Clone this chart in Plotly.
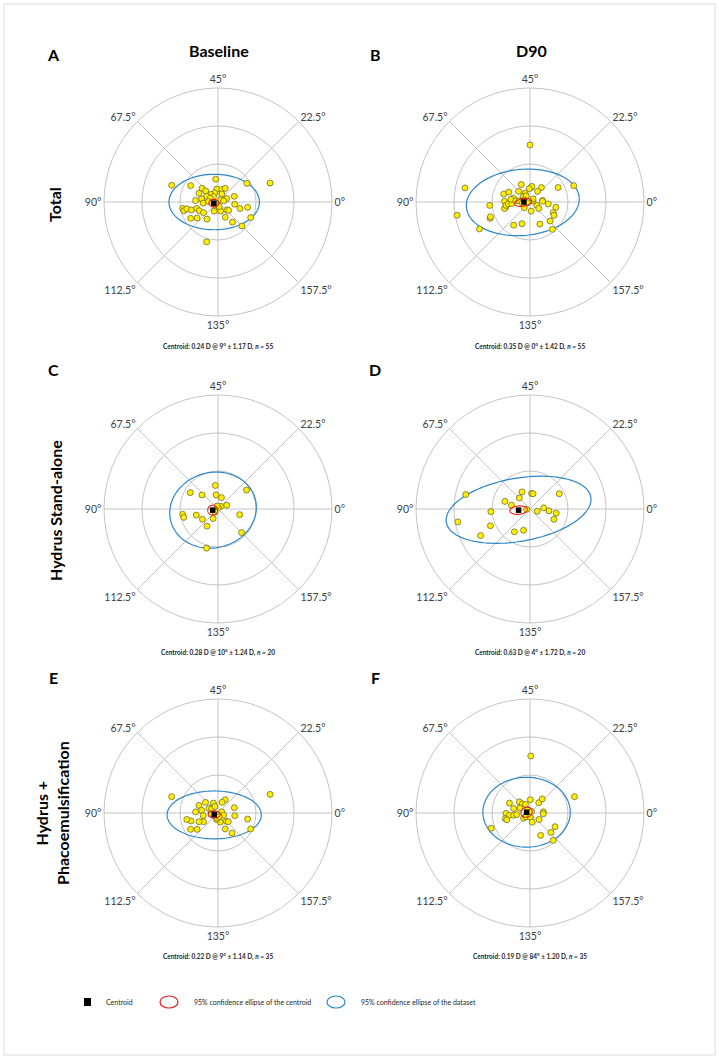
import numpy as np
import plotly.graph_objects as go

W, H = 719, 1059
FONT = "Lato"

# ---- data (double-angle plot coordinates, diopters) ----
A_x = [-1.22,-0.72,-0.06,0.76,1.37,-0.42,-0.32,-0.50,-0.03,0.10,0.19,-0.09,-0.19,-0.30,-0.43,-0.59,-0.39,0.07,0.23,0.43,
       0.15,0.44,0.58,0.78,0.86,0.63,0.38,0.19,0.07,0.23,0.28,-0.10,-0.29,-0.55,-0.72,-0.93,-0.90,-0.82,-0.70,-0.56,
       -0.49,-0.38,-0.30,-0.05,-0.01,-0.12,-0.21,0.10,0.03,-0.25]
A_y = [0.44,0.43,0.60,0.49,0.50,0.36,0.29,0.23,0.34,0.33,0.36,0.24,0.20,0.15,0.08,0.04,-0.03,0.06,0.09,0.15,
       0.03,-0.06,-0.17,-0.14,-0.41,-0.63,-0.53,-0.40,-0.24,-0.21,-0.22,-0.24,-0.45,-0.42,-0.43,-0.17,-0.23,-0.18,-0.21,-0.17,
       -0.23,-0.28,-1.05,-0.11,-0.08,0.14,0.10,0.21,-0.12,0.01]

B_x = [0.00,-1.71,-1.92,-1.33,-1.05,-1.04,-1.06,-0.69,-0.56,-0.23,-0.30,-0.13,0.03,0.05,-0.02,0.30,0.20,0.74,1.15,0.33,
       0.33,0.48,0.18,0.23,0.03,-0.15,0.61,0.63,0.68,0.53,0.26,-0.21,-0.43,0.59,-0.67,-0.64,-0.67,-0.63,-0.57,-0.48,
       -0.44,-0.50,-0.37,-0.29,-0.18,-0.10,-0.16,-0.06,0.08,0.08,-0.20]
B_y = [1.50,0.37,-0.35,-0.71,-0.43,-0.39,-0.09,0.21,0.26,0.46,0.28,0.23,0.38,0.41,0.35,0.38,0.28,0.38,0.43,0.04,
       0.02,-0.05,-0.09,-0.17,-0.24,-0.15,-0.28,-0.35,-0.14,-0.50,-0.58,-0.57,-0.61,-0.72,0.02,-0.14,-0.17,-0.09,-0.05,-0.04,
       0.10,0.07,0.03,0.03,0.14,0.16,0.05,-0.02,0.03,0.08,-0.03]

C_x = [-0.07,-0.73,-0.42,-0.05,0.09,0.75,0.23,0.07,0.01,-0.08,-0.13,-0.41,-0.57,-0.93,-0.90,-0.29,0.57,0.62,-0.30,-0.02]
C_y = [0.62,0.43,0.37,0.37,0.30,0.50,0.10,0.07,0.03,-0.08,-0.25,-0.27,-0.16,-0.14,-0.22,-0.45,-0.15,-0.62,-1.03,0.08]

D_x = [-1.69,-1.90,-1.30,-1.04,-1.03,-0.66,-0.49,-0.28,-0.21,0.04,0.08,0.77,-0.09,0.19,0.36,0.50,0.69,0.63,-0.17,-0.41]
D_y = [0.38,-0.34,-0.70,-0.44,-0.07,0.20,0.10,0.29,0.45,0.41,0.40,0.40,-0.01,-0.06,0.03,-0.05,-0.11,-0.27,-0.56,-0.60]

E_x = [-1.22,1.37,-0.50,-0.33,-0.12,0.19,0.11,0.43,-0.43,-0.59,-0.39,-0.24,-0.17,-0.08,0.10,0.15,0.44,0.78,0.86,0.37,
       0.19,0.22,0.27,0.06,-0.04,-0.02,-0.38,-0.50,-0.71,-0.82,-0.55,-0.72,-0.18,0.03]
E_y = [0.43,0.49,0.20,0.28,0.26,0.35,0.28,0.14,0.07,0.03,-0.07,0.12,0.10,0.17,0.03,-0.06,-0.07,-0.16,-0.42,-0.53,
       -0.42,-0.22,-0.23,-0.24,-0.17,-0.14,-0.23,-0.23,-0.21,-0.17,-0.43,-0.43,-0.01,-0.10]

F_x = [0.02,1.17,-1.02,-0.54,-0.28,-0.20,-0.12,0.01,0.23,0.32,-0.43,-0.26,-0.63,-0.54,-0.43,-0.35,-0.65,-0.61,-0.17,-0.11,
       0.01,0.06,0.24,0.35,0.35,0.66,0.55,0.28,0.61,-0.06,0.04]
F_y = [1.50,0.43,-0.40,0.26,0.29,0.24,0.23,0.35,0.27,0.37,0.12,0.13,-0.01,-0.06,-0.06,-0.04,-0.15,-0.18,-0.14,-0.10,
       -0.11,-0.24,-0.17,0.03,-0.02,-0.36,-0.51,-0.59,-0.72,0.09,0.04]

# centroid positions (x, y)
centroids = {"A": (-0.11, -0.03), "B": (-0.16, 0.00), "C": (-0.14, -0.03),
             "D": (-0.30, -0.03), "E": (-0.10, -0.04), "F": (-0.09, 0.02)}
# ellipse params: (cx, cy, semi-major, semi-minor, tilt deg)
red_ell = {"A": (-0.11, -0.03, 0.13, 0.10, 0), "B": (-0.18, -0.01, 0.23, 0.10, 10),
           "C": (-0.14, -0.03, 0.13, 0.13, 0), "D": (-0.30, -0.03, 0.23, 0.11, 5),
           "E": (-0.10, -0.04, 0.16, 0.09, 0), "F": (-0.09, 0.02, 0.15, 0.13, 20)}
blue_ell = {"A": (-0.10, 0.00, 1.19, 0.73, 0), "B": (-0.19, -0.01, 1.49, 0.87, 5),
            "C": (-0.13, -0.03, 1.15, 0.99, 15), "D": (-0.30, -0.02, 1.93, 0.83, 10),
            "E": (-0.10, -0.05, 1.24, 0.63, 0), "F": (-0.09, 0.02, 1.15, 0.92, 0)}

captions = {
    "A": "Centroid: 0.24 D @ 9° ± 1.17 D, <i>n</i> = 55",
    "B": "Centroid: 0.35 D @ 0° ± 1.42 D, <i>n</i> = 55",
    "C": "Centroid: 0.28 D @ 10° ± 1.24 D, <i>n</i> = 20",
    "D": "Centroid: 0.63 D @ 4° ± 1.72 D, <i>n</i> = 20",
    "E": "Centroid: 0.22 D @ 9° ± 1.14 D, <i>n</i> = 35",
    "F": "Centroid: 0.19 D @ 84° ± 1.20 D, <i>n</i> = 35",
}
tick_text = ["0°", "22.5°", "45°", "67.5°", "90°", "112.5°", "135°", "157.5°"]
col_titles = ["Baseline", "D90"]
row_titles = ["Total", "Hydrus Stand-alone", "Hydrus +<br>Phacoemulsification"]

points = {"A": (A_x, A_y), "B": (B_x, B_y), "C": (C_x, C_y),
          "D": (D_x, D_y), "E": (E_x, E_y), "F": (F_x, F_y)}

# ---- layout geometry (pixels) ----
col_cx = [218, 530]
row_cy = [202, 509, 813]
R = 114
cap_y = [347, 653, 957]
letter_y = [54, 369, 677]
letter_x = [53, 375]


def px(x):
    return x / W


def py(y):
    return 1 - y / H


def to_polar(x, y):
    x = np.asarray(x, float)
    y = np.asarray(y, float)
    return np.hypot(x, y), np.degrees(np.arctan2(y, x))


def ellipse(cx, cy, a, b, ang):
    t = np.linspace(0, 2 * np.pi, 121)
    th = np.radians(ang)
    ex = a * np.cos(t)
    ey = b * np.sin(t)
    x = cx + ex * np.cos(th) - ey * np.sin(th)
    y = cy + ex * np.sin(th) + ey * np.cos(th)
    return to_polar(x, y)


fig = go.Figure()
layout_polars = {}
annotations = []
letters = ["A", "B", "C", "D", "E", "F"]
for i, key in enumerate(letters):
    r_i, c_i = divmod(i, 2)
    name = "polar" if i == 0 else f"polar{i+1}"
    sub = "polar" if i == 0 else f"polar{i+1}"
    cx, cy = col_cx[c_i], row_cy[r_i]
    layout_polars[name] = dict(
        domain=dict(x=[px(cx - R), px(cx + R)], y=[py(cy + R), py(cy - R)]),
        bgcolor="white",
        angularaxis=dict(rotation=0, direction="counterclockwise",
                         tickmode="array", tickvals=[0, 45, 90, 135, 180, 225, 270, 315],
                         ticktext=tick_text, ticks="", showline=True,
                         linecolor="#c4c4c4", linewidth=1, gridcolor="#c4c4c4", gridwidth=1,
                         tickfont=dict(family=FONT, size=10.5, color="#404040")),
        radialaxis=dict(range=[0, 3], tickvals=[1, 2, 3], showticklabels=False, ticks="",
                        showline=False, gridcolor="#c4c4c4", gridwidth=1),
    )
    # blue ellipse
    r, th = ellipse(*blue_ell[key])
    fig.add_trace(go.Scatterpolar(r=r, theta=th, mode="lines", subplot=sub,
                                  line=dict(color="#2e86c8", width=1.2), showlegend=False))
    # points
    r, th = to_polar(*points[key])
    fig.add_trace(go.Scatterpolar(r=r, theta=th, mode="markers", subplot=sub,
                                  marker=dict(color="#ffee00", size=6,
                                              line=dict(color="#5e5e26", width=0.7)),
                                  showlegend=False))
    # red ellipse
    r, th = ellipse(*red_ell[key])
    fig.add_trace(go.Scatterpolar(r=r, theta=th, mode="lines", subplot=sub,
                                  line=dict(color="#e8201c", width=1.1), showlegend=False))
    # centroid
    r, th = to_polar([centroids[key][0]], [centroids[key][1]])
    fig.add_trace(go.Scatterpolar(r=r, theta=th, mode="markers", subplot=sub,
                                  marker=dict(color="black", symbol="square", size=5.5),
                                  showlegend=False))
    # caption
    annotations.append(dict(x=px(cx), y=py(cap_y[r_i]), xref="paper", yref="paper",
                            text="<b>" + captions[key] + "</b>", showarrow=False,
                            font=dict(family=FONT, size=6.5, color="#262626"),
                            xanchor="center", yanchor="middle"))
    # panel letter
    annotations.append(dict(x=px(letter_x[c_i]), y=py(letter_y[r_i]), xref="paper", yref="paper",
                            text="<b>" + key + "</b>", showarrow=False,
                            font=dict(family=FONT, size=16, color="black"),
                            xanchor="center", yanchor="middle"))

# column titles
for c_i, t in enumerate(col_titles):
    annotations.append(dict(x=px(col_cx[c_i] + 1), y=py(51), xref="paper", yref="paper",
                            text="<b>" + t + "</b>", showarrow=False,
                            font=dict(family=FONT, size=16, color="black"),
                            xanchor="center", yanchor="middle"))
# row titles
row_lab_x = [54, 55, 52]
row_lab_y = [205, 510, 813]
for r_i, t in enumerate(row_titles):
    annotations.append(dict(x=px(row_lab_x[r_i]), y=py(row_lab_y[r_i]), xref="paper", yref="paper",
                            text="<b>" + t + "</b>", showarrow=False, textangle=-90,
                            font=dict(family=FONT, size=16, color="black"),
                            xanchor="center", yanchor="middle"))

# legend
leg_y = 1002
shapes = [
    dict(type="rect", xref="paper", yref="paper", x0=px(4), x1=px(715), y0=py(1055), y1=py(4),
         line=dict(color="#dcdcdc", width=1), fillcolor="rgba(0,0,0,0)"),
    dict(type="rect", xref="paper", yref="paper", x0=px(84), x1=px(91), y0=py(leg_y + 4), y1=py(leg_y - 4),
         line=dict(color="black", width=0), fillcolor="black"),
    dict(type="circle", xref="paper", yref="paper", x0=px(160), x1=px(178), y0=py(leg_y + 6), y1=py(leg_y - 6),
         line=dict(color="#e8201c", width=1.2)),
    dict(type="circle", xref="paper", yref="paper", x0=px(327), x1=px(345), y0=py(leg_y + 6), y1=py(leg_y - 6),
         line=dict(color="#2e86c8", width=1.2)),
]
for xx, t in [(104, "Centroid"), (192, "95% confidence ellipse of the centroid"),
              (359, "95% confidence ellipse of the dataset")]:
    annotations.append(dict(x=px(xx), y=py(leg_y), xref="paper", yref="paper", text=t,
                            showarrow=False, font=dict(family=FONT, size=7, color="#262626"),
                            xanchor="left", yanchor="middle"))

fig.update_layout(width=W, height=H, margin=dict(l=0, r=0, t=0, b=0),
                  paper_bgcolor="white", plot_bgcolor="white",
                  annotations=annotations, shapes=shapes, showlegend=False,
                  **layout_polars)
fig.write_html("out.html")
